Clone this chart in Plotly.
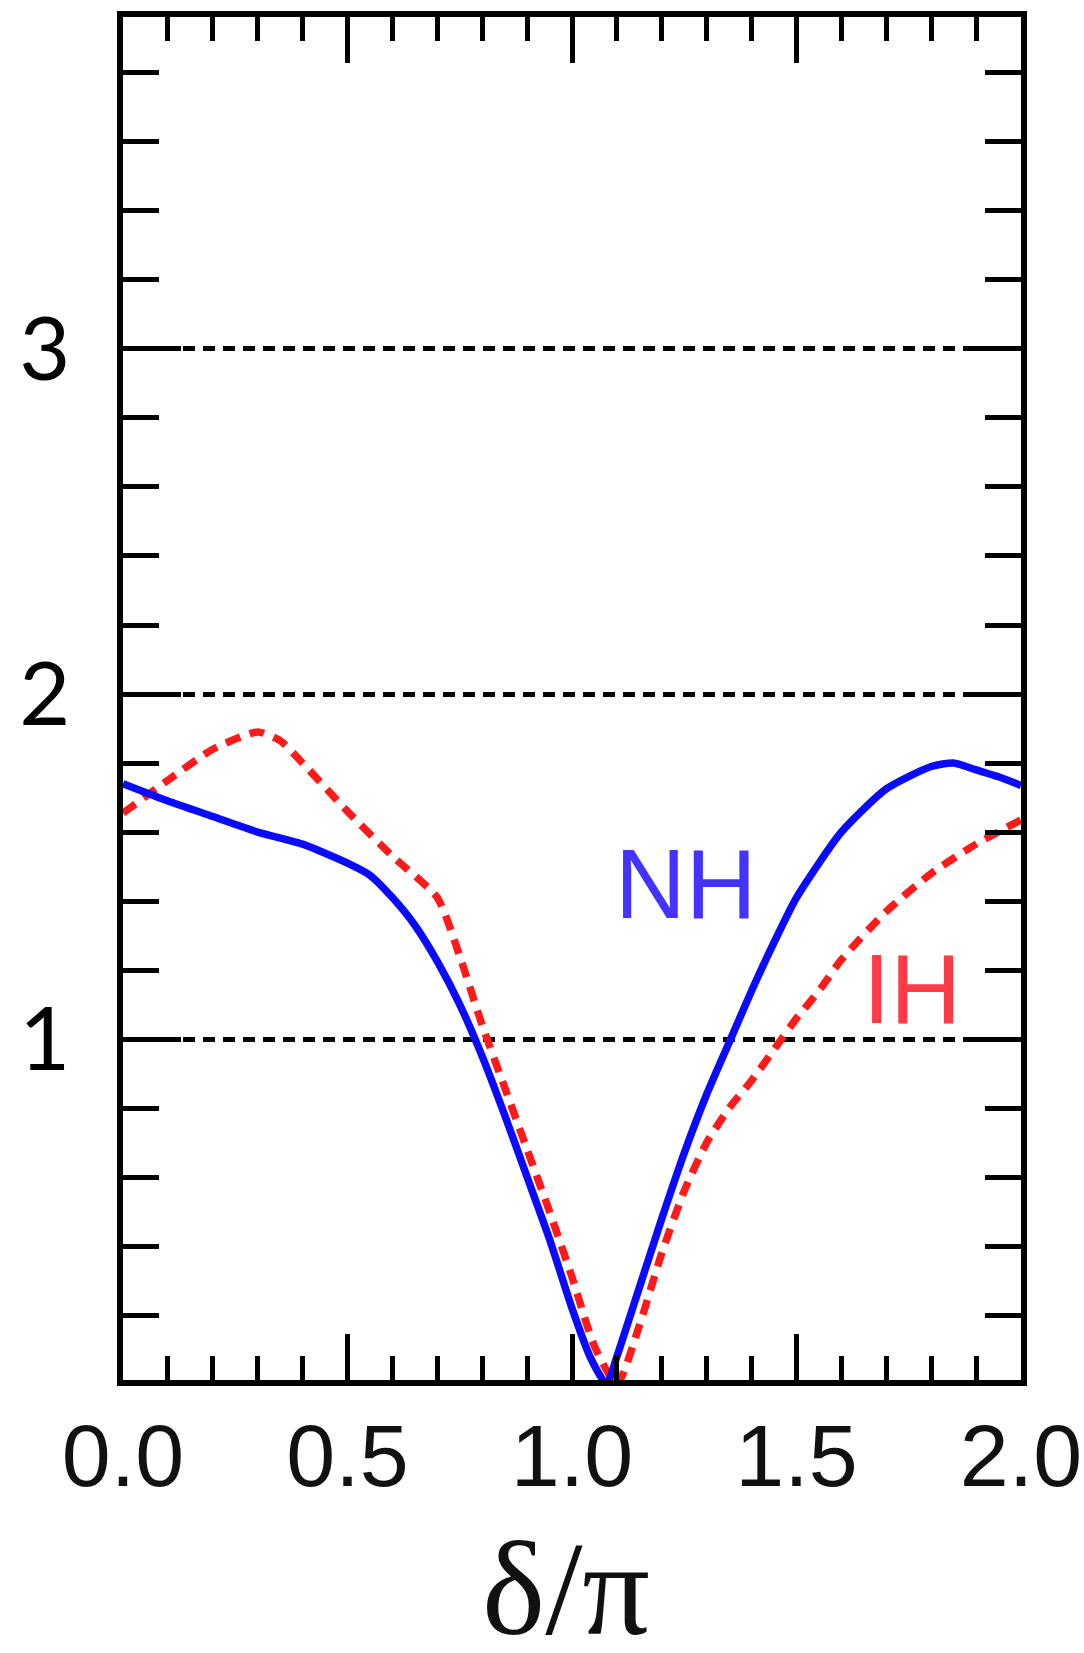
import plotly.graph_objects as go

# delta / pi sampling for each hierarchy curve
nh_x = [0.0, 0.1, 0.2, 0.3, 0.4, 0.5, 0.55, 0.6, 0.65, 0.7, 0.75, 0.8, 0.85,
        0.9, 0.95, 1.0, 1.04, 1.077, 1.1, 1.15, 1.2, 1.25, 1.3, 1.35, 1.4,
        1.45, 1.5, 1.6, 1.7, 1.8, 1.85, 1.9, 1.95, 2.0]
nh_y = [1.74, 1.69, 1.645, 1.60, 1.565, 1.51, 1.475, 1.41, 1.33, 1.225, 1.10,
        0.95, 0.78, 0.60, 0.42, 0.22, 0.08, 0.0, 0.08, 0.28, 0.48, 0.67, 0.84,
        0.99, 1.14, 1.28, 1.41, 1.60, 1.725, 1.79, 1.80, 1.78, 1.76, 1.735]

ih_x = [0.0, 0.1, 0.2, 0.3, 0.35, 0.4, 0.5, 0.6, 0.7, 0.75, 0.8, 0.85, 0.9,
        0.95, 1.0, 1.05, 1.1, 1.15, 1.2, 1.25, 1.3, 1.35, 1.4, 1.45, 1.5,
        1.55, 1.6, 1.7, 1.8, 1.9, 2.0]
ih_y = [1.655, 1.75, 1.84, 1.89, 1.865, 1.80, 1.66, 1.53, 1.41, 1.24, 1.04,
        0.86, 0.68, 0.50, 0.31, 0.11, 0.0, 0.17, 0.38, 0.56, 0.70, 0.80, 0.88,
        0.97, 1.06, 1.14, 1.23, 1.37, 1.48, 1.565, 1.635]

x_tickvals = [0.0, 0.5, 1.0, 1.5, 2.0]
x_ticktext = ["0.0", "0.5", "1.0", "1.5", "2.0"]
y_tickvals = [1, 2, 3]
y_ticktext = ["1", "2", "3"]

fig = go.Figure()

fig.add_trace(go.Scatter(
    x=ih_x, y=ih_y, mode="lines", name="IH",
    line=dict(color="#ff1a1a", width=7.5, dash="15px,10px", shape="spline", smoothing=0.6),
))
fig.add_trace(go.Scatter(
    x=nh_x, y=nh_y, mode="lines", name="NH",
    line=dict(color="#0a0aff", width=7.5, shape="spline", smoothing=0.6),
))

fig.add_annotation(x=1.253, y=1.45, xref="x", yref="y", text="NH", showarrow=False,
                   font=dict(family="Liberation Sans", size=98, color="#4433ff"))
fig.add_annotation(x=1.758, y=1.145, xref="x", yref="y", text="IH", showarrow=False,
                   font=dict(family="Liberation Sans", size=98, color="#ff3b48"))

# axis title
fig.add_annotation(x=1.0, y=-0.2, xref="x", yref="paper", text="δ/π", showarrow=False,
                   yanchor="bottom", yshift=-12, xshift=-6,
                   font=dict(family="Liberation Serif", size=134, color="#111111"))

fig.update_xaxes(
    range=[0, 2], automargin=False,
    tickvals=x_tickvals, ticktext=x_ticktext,
    ticks="inside", ticklen=46, tickwidth=5, tickcolor="black",
    minor=dict(dtick=0.1, tick0=0, ticks="inside", ticklen=24, tickwidth=5,
               tickcolor="black", showgrid=False),
    showline=True, linewidth=6, linecolor="black", mirror="ticks",
    showgrid=False, zeroline=False,
    tickfont=dict(family="Liberation Sans", size=88, color="#111111"),
    ticklabelstandoff=-6, ticklabeloverflow="allow",
)
fig.update_yaxes(
    range=[0.012, 3.962], automargin=False,
    tickvals=y_tickvals, ticktext=y_ticktext,
    ticks="inside", ticklen=58, tickwidth=5, tickcolor="black",
    minor=dict(dtick=0.2, tick0=0, ticks="inside", ticklen=36, tickwidth=5,
               tickcolor="black", showgrid=False),
    showline=True, linewidth=6, linecolor="black", mirror="ticks",
    showgrid=True, gridcolor="black", gridwidth=5, griddash="12px,8px",
    zeroline=False,
    tickfont=dict(family="Lato", size=88, color="black"),
    ticklabelstandoff=29, ticklabeloverflow="allow",
)

fig.update_layout(
    width=1084, height=1653,
    margin=dict(l=123, r=63, t=17, b=273),
    paper_bgcolor="white", plot_bgcolor="white",
    showlegend=False,
)

fig.write_html("out.html")
